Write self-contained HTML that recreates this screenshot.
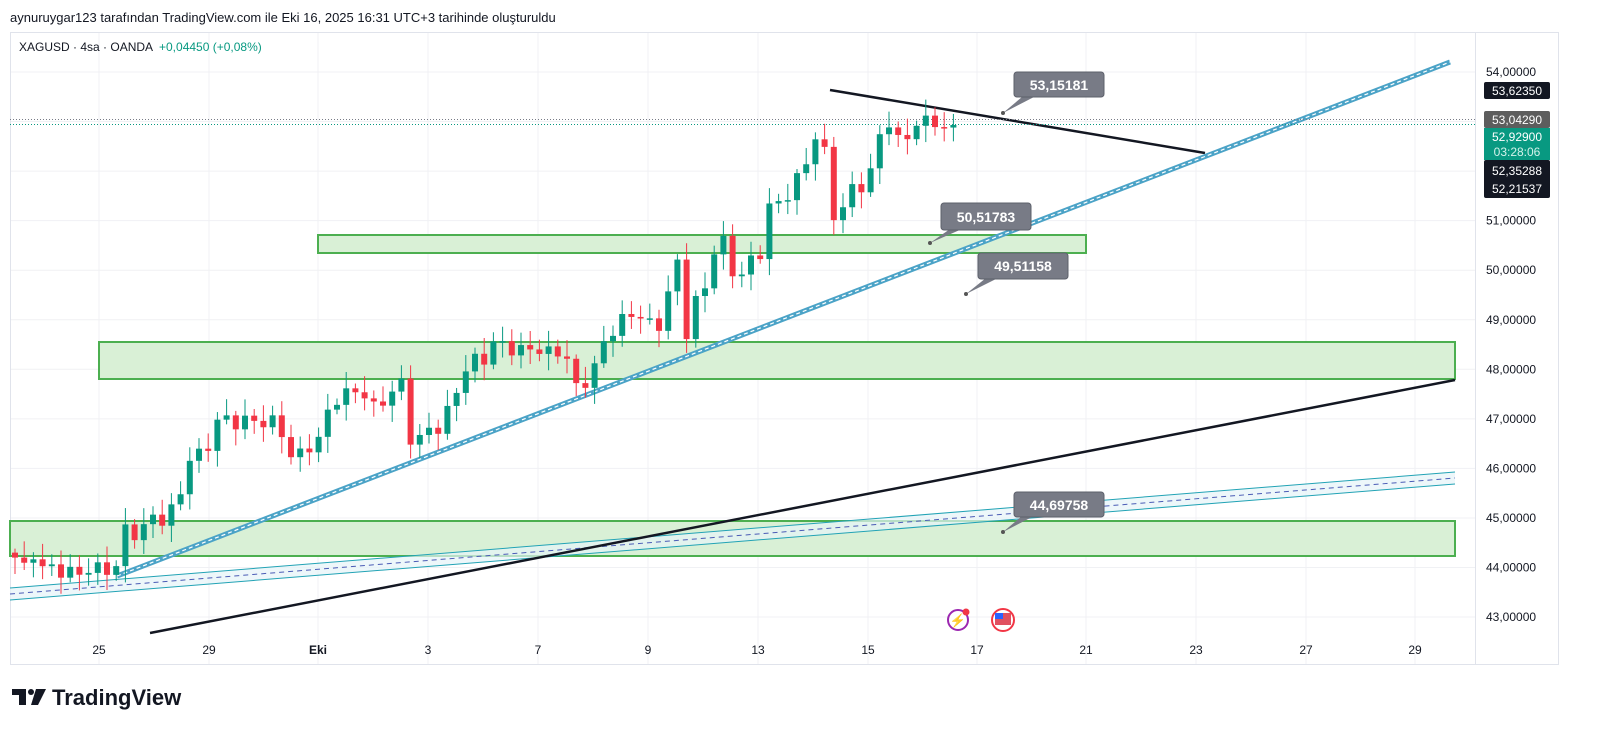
<!DOCTYPE html>
<html><head><meta charset="utf-8"><style>
body{margin:0;background:#fff;width:1600px;height:745px;overflow:hidden;font-family:"Liberation Sans",sans-serif}
</style></head><body>
<svg id="s" width="1600" height="745" xmlns="http://www.w3.org/2000/svg" font-family="Liberation Sans, sans-serif">
<text x="10" y="22" font-size="13" fill="#131722">aynuruygar123 tarafından TradingView.com ile Eki 16, 2025 16:31 UTC+3 tarihinde oluşturuldu</text>
<rect x="10.5" y="32.5" width="1548" height="632" fill="none" stroke="#e0e3eb"/>
<g id="grid" stroke="#f0f1f4" stroke-width="1"></g>
<line x1="1475.5" y1="33" x2="1475.5" y2="664" stroke="#e0e3eb"/>
<text x="19" y="51" font-size="12" fill="#131722">XAGUSD · 4sa · OANDA</text>
<text x="159" y="51" font-size="12" fill="#089981">+0,04450 (+0,08%)</text>
<!-- zones -->
<rect x="318" y="235" width="768" height="18" fill="#d9f0d6" stroke="#4caf50" stroke-width="2"/>
<rect x="99" y="342" width="1356" height="37" fill="#d9f0d6" stroke="#4caf50" stroke-width="2"/>
<rect x="10" y="521" width="1445" height="35" fill="#d9f0d6" stroke="#4caf50" stroke-width="2"/>
<!-- lower channel -->
<polygon points="10,588 1455,472 1455,484 10,600" fill="#e6f4f8" opacity="0.7"/>
<line x1="10" y1="588" x2="1455" y2="472" stroke="#22a3b5" stroke-width="1"/>
<line x1="10" y1="600" x2="1455" y2="484" stroke="#22a3b5" stroke-width="1"/>
<line x1="10" y1="594" x2="1455" y2="478" stroke="#4a5bb5" stroke-width="1" stroke-dasharray="5,4"/>
<!-- black lines -->
<line x1="150" y1="633" x2="1455" y2="380" stroke="#131722" stroke-width="2.5"/>
<line x1="830" y1="90" x2="1205" y2="153" stroke="#131722" stroke-width="2.5"/>
<!-- blue double line -->
<line x1="117" y1="576" x2="1450" y2="62" stroke="#4ba3c7" stroke-width="5"/>
<line x1="117" y1="576" x2="1450" y2="62" stroke="#fff" stroke-width="1.2" stroke-dasharray="4,3"/>
<!-- dotted price lines -->
<line x1="10" y1="119.5" x2="1475" y2="119.5" stroke="#787b86" stroke-dasharray="1,2"/>
<line x1="10" y1="124.5" x2="1475" y2="124.5" stroke="#089981" stroke-dasharray="1,2"/>
<g id="candles"></g>
<g id="axis" font-size="12" fill="#131722"></g>
<!-- callouts -->
<g font-size="14" font-weight="bold" fill="#fff">
<path d="M1003,113 L1022,97 L1034,97 Z" fill="#787b86"/><rect x="1014" y="72" width="90" height="25" rx="3" fill="#787b86" stroke="#5d606b"/><text x="1059" y="90" text-anchor="middle">53,15181</text><circle cx="1003" cy="113" r="2" fill="#555"/>
<path d="M930,243 L950,229 L962,229 Z" fill="#787b86"/><rect x="941" y="203" width="90" height="27" rx="3" fill="#787b86" stroke="#5d606b"/><text x="986" y="222" text-anchor="middle">50,51783</text><circle cx="930" cy="243" r="2" fill="#555"/>
<path d="M966,294 L986,278 L998,278 Z" fill="#787b86"/><rect x="978" y="253" width="90" height="26" rx="3" fill="#787b86" stroke="#5d606b"/><text x="1023" y="271" text-anchor="middle">49,51158</text><circle cx="966" cy="294" r="2" fill="#555"/>
<path d="M1003,532 L1022,516 L1034,516 Z" fill="#787b86"/><rect x="1014" y="492" width="90" height="25" rx="3" fill="#787b86" stroke="#5d606b"/><text x="1059" y="510" text-anchor="middle">44,69758</text><circle cx="1003" cy="532" r="2" fill="#555"/>
</g>
<!-- axis labels -->
<g font-size="12">
<rect x="1484" y="82" width="66" height="17" rx="2" fill="#131722"/><text x="1517" y="95" fill="#fff" text-anchor="middle">53,62350</text>
<rect x="1484" y="111" width="66" height="17" rx="2" fill="#5d5d5d"/><text x="1517" y="124" fill="#fff" text-anchor="middle">53,04290</text>
<rect x="1484" y="128" width="66" height="32" fill="#089981"/><text x="1517" y="141" fill="#fff" text-anchor="middle">52,92900</text><text x="1517" y="156" fill="#d4f2ea" text-anchor="middle">03:28:06</text>
<rect x="1484" y="160" width="66" height="38" rx="2" fill="#131722"/><text x="1517" y="175" fill="#fff" text-anchor="middle">52,35288</text><text x="1517" y="193" fill="#fff" text-anchor="middle">52,21537</text>
</g>
<!-- icons -->
<circle cx="958" cy="620" r="10" fill="#fff" stroke="#9c27b0" stroke-width="2"/><text x="958" y="625" font-size="13" fill="#9c27b0" text-anchor="middle">⚡</text><circle cx="966" cy="612" r="3.5" fill="#f23645"/>
<circle cx="1003" cy="620" r="11" fill="#fff" stroke="#f23645" stroke-width="2"/><rect x="995" y="613" width="16" height="12" fill="#e05060"/><rect x="995" y="613" width="8" height="6" fill="#2962ff"/>
<!-- logo -->
<g fill="#131722"><rect x="12" y="689" width="14" height="6"/><rect x="19" y="689" width="7" height="16"/><circle cx="31" cy="692" r="3"/><path d="M36,689 L46,689 L38,705 L31,705 Z"/></g>
<text x="52" y="705" font-size="22" font-weight="bold" fill="#131722">TradingView</text>
</svg>
<script>
const NS="http://www.w3.org/2000/svg";
const Y=p=>72+(54-p)*49.55;
function el(t,a,parent){const e=document.createElementNS(NS,t);for(const k in a)e.setAttribute(k,a[k]);parent.appendChild(e);return e;}
const grid=document.getElementById('grid'),axis=document.getElementById('axis');
for(let p=43;p<=54;p++){const y=Y(p);el('line',{x1:11,x2:1475,y1:y,y2:y},grid);
 const t=el('text',{x:1486,y:y+4},axis);t.textContent=p+",00000";}
const dates=[[99,"25"],[209,"29"],[318,"Eki"],[428,"3"],[538,"7"],[648,"9"],[758,"13"],[868,"15"],[977,"17"],[1086,"21"],[1196,"23"],[1306,"27"],[1415,"29"]];
dates.forEach(([x,l])=>{el('line',{x1:x,x2:x,y1:33,y2:664},grid);const t=el('text',{x:x,y:654,"text-anchor":"middle","font-weight":l=="Eki"?"bold":"normal"},axis);t.textContent=l;});
const k=[[15,44.2],[24,44.0],[33,44.3],[42,43.95],[51,44.05],[60,43.9],[80,43.9],[100,44.0],[115,43.9],[125,44.8],[140,44.6],[150,45.1],[165,44.9],[180,45.5],[190,46.2],[200,46.3],[210,46.5],[220,47.1],[235,46.9],[250,47.0],[265,46.9],[280,47.0],[285,46.2],[300,46.3],[320,46.6],[330,47.3],[345,47.5],[360,47.6],[375,47.2],[390,47.5],[405,47.8],[412,46.3],[425,46.8],[440,46.8],[455,47.5],[470,48.2],[485,48.2],[495,48.6],[510,48.4],[525,48.4],[540,48.4],[555,48.3],[565,48.4],[575,47.6],[590,47.8],[600,48.4],[610,48.7],[620,49.0],[635,49.1],[645,49.1],[655,48.7],[665,49.1],[675,50.6],[685,48.6],[695,49.4],[705,49.6],[715,50.5],[725,50.6],[735,49.7],[745,50.1],[760,50.3],[770,51.4],[780,51.3],[790,51.6],[800,52.0],[810,52.2],[820,53.2],[830,51.4],[838,50.7],[847,51.8],[856,51.5],[865,51.8],[875,52.2],[885,53.2],[895,52.7],[905,52.5],[913,53.0],[923,53.0],[932,53.0],[940,52.9],[950,52.9],[958,52.93]];
function interp(x){for(let i=1;i<k.length;i++){if(x<=k[i][0]){const a=k[i-1],b=k[i];return a[1]+(b[1]-a[1])*(x-a[0])/(b[0]-a[0]);}}return k[k.length-1][1];}
const g=document.getElementById('candles');
let prev=44.3,i=0;
for(let x=15;x<=959;x+=9.2,i++){
 let c=interp(x)+Math.sin(i*2.3)*0.12;
 if(x>950)c=52.93;
 const o=prev;const hi=Math.max(o,c)+0.08+Math.abs(Math.sin(i*1.7))*0.25;const lo=Math.min(o,c)-0.08-Math.abs(Math.cos(i*1.3))*0.25;
 const col=c>=o?"#089981":"#f23645";
 el('line',{x1:x,x2:x,y1:Y(hi),y2:Y(lo),stroke:col,"stroke-width":1},g);
 const y1=Y(Math.max(o,c)),h=Math.max(1.5,Y(Math.min(o,c))-y1);
 el('rect',{x:x-3,y:y1,width:6,height:h,fill:col},g);
 prev=c;
}
</script>
</body></html>
